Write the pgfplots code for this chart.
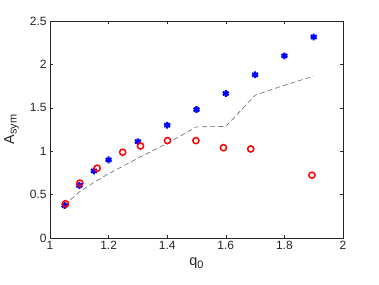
\documentclass[border=0pt]{standalone}
\usepackage{fontspec}
\setmainfont{Liberation Sans}
\usepackage{pgfplots}
\pgfplotsset{compat=1.18}
\definecolor{axgray}{gray}{0.15}
\newcommand{\sub}[1]{\raisebox{-0.35ex}{\fontsize{11}{12}\selectfont #1}}
\begin{document}
\begin{tikzpicture}
\useasboundingbox (-50bp,-47bp) rectangle (329bp,238bp);
\begin{axis}[
  scale only axis, width=293bp, height=217bp,
  at={(0,0)}, anchor=south west,
  xmin=1, xmax=2, ymin=0, ymax=2.5,
  xtick={1,1.2,1.4,1.6,1.8,2},
  ytick={0,0.5,1,1.5,2,2.5},
  xticklabels={1,1.2,1.4,1.6,1.8,2},
  yticklabels={0,0.5,1,1.5,2,2.5},
  tick align=inside, major tick length=3bp,
  tick pos=both,
  axis line style={axgray, line width=0.5pt},
  every tick/.style={axgray, line width=0.5pt},
  tick label style={font=\fontsize{12}{13}\selectfont, text=axgray},
  label style={font=\fontsize{14.5}{16}\selectfont, text=axgray},
  xlabel={q\sub{0}},
  ylabel={A\sub{sym}},
  xlabel style={yshift=-1bp},
  ylabel style={yshift=4bp},
  /pgf/number format/assume math mode=true,
  clip=false,
]
\addplot[gray!80!black, dash pattern=on 5pt off 3pt, line width=0.6pt] coordinates {
 (1.05,0.38) (1.1,0.53) (1.15,0.64) (1.2,0.74) (1.25,0.83) (1.3,0.92) (1.4,1.09) (1.5,1.28) (1.6,1.285) (1.7,1.645) (1.8,1.76) (1.9,1.865)
};
\addplot[only marks, blue, mark=asterisk, mark size=3.4pt, line width=2.1pt] coordinates {
 (1.05,0.375) (1.1,0.605) (1.15,0.773) (1.2,0.90) (1.3,1.11) (1.4,1.30) (1.5,1.48) (1.6,1.665) (1.7,1.88) (1.8,2.098) (1.9,2.316)
};
\addplot[only marks, red, mark=o, mark size=3.1pt, line width=1.5pt] coordinates {
 (1.053,0.394) (1.102,0.632) (1.161,0.804) (1.248,0.988) (1.309,1.06) (1.401,1.122) (1.498,1.122) (1.592,1.041) (1.685,1.026) (1.894,0.724)
};
\end{axis}
\end{tikzpicture}
\end{document}
